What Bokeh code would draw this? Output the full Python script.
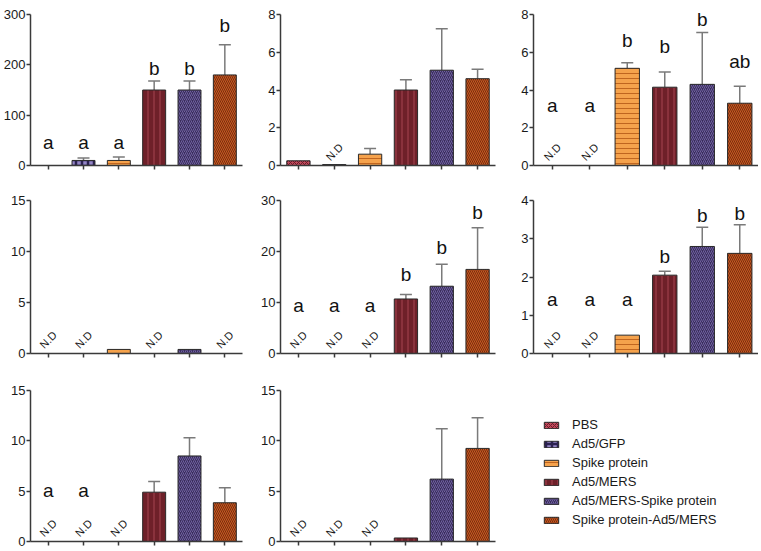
import math
from bokeh.plotting import figure
from bokeh.models import (ColumnDataSource, Whisker, TeeHead, Range1d, FixedTicker,
                          Legend, LegendItem)
from bokeh.layouts import column, row
from bokeh.core.properties import value
from bokeh.embed import file_html
from bokeh.resources import INLINE

# ---------------- data ----------------
GROUPS = ["PBS", "Ad5/GFP", "Spike protein", "Ad5/MERS",
          "Ad5/MERS-Spike protein", "Spike protein-Ad5/MERS"]
NAN = float("nan")

P1_MEAN = [0, 10, 10, 150, 150, 180]
P1_TOP = [NAN, 15, 17, 168, 168, 240]
P1_LETTERS = ["a", "a", "a", "b", "b", "b"]
P1_LETTER_Y = [46, 46, 46, 193, 193, 278]
P1_ND = [False, False, False, False, False, False]
P1_TICKS = [0, 100, 200, 300]

P2_MEAN = [0.25, 0.05, 0.6, 4.0, 5.05, 4.6]
P2_TOP = [NAN, NAN, 0.9, 4.55, 7.25, 5.1]
P2_LETTERS = ["", "", "", "", "", ""]
P2_LETTER_Y = [0, 0, 0, 0, 0, 0]
P2_ND = [False, True, False, False, False, False]
P2_TICKS = [0, 2, 4, 6, 8]

P3_MEAN = [0, 0, 5.15, 4.15, 4.3, 3.3]
P3_TOP = [NAN, NAN, 5.45, 4.95, 7.05, 4.2]
P3_LETTERS = ["a", "a", "b", "b", "b", "ab"]
P3_LETTER_Y = [3.2, 3.2, 6.6, 6.3, 7.75, 5.5]
P3_ND = [True, True, False, False, False, False]
P3_TICKS = [0, 2, 4, 6, 8]

P4_MEAN = [0, 0, 0.4, 0, 0.4, 0]
P4_TOP = [NAN, NAN, NAN, NAN, NAN, NAN]
P4_LETTERS = ["", "", "", "", "", ""]
P4_LETTER_Y = [0, 0, 0, 0, 0, 0]
P4_ND = [True, True, False, True, False, True]
P4_TICKS = [0, 5, 10, 15]

P5_MEAN = [0, 0, 0, 10.7, 13.2, 16.5]
P5_TOP = [NAN, NAN, NAN, 11.6, 17.5, 24.7]
P5_LETTERS = ["a", "a", "a", "b", "b", "b"]
P5_LETTER_Y = [9.4, 9.4, 9.4, 15.5, 20.8, 27.6]
P5_ND = [True, True, True, False, False, False]
P5_TICKS = [0, 10, 20, 30]

P6_MEAN = [0, 0, 0.48, 2.05, 2.8, 2.62]
P6_TOP = [NAN, NAN, NAN, 2.15, 3.3, 3.37]
P6_LETTERS = ["a", "a", "a", "b", "b", "b"]
P6_LETTER_Y = [1.42, 1.42, 1.42, 2.53, 3.6, 3.67]
P6_ND = [True, True, False, False, False, False]
P6_TICKS = [0, 1, 2, 3, 4]

P7_MEAN = [0, 0, 0, 4.9, 8.5, 3.85]
P7_TOP = [NAN, NAN, NAN, 5.95, 10.3, 5.35]
P7_LETTERS = ["a", "a", "", "", "", ""]
P7_LETTER_Y = [5.1, 5.1, 0, 0, 0, 0]
P7_ND = [True, True, True, False, False, False]
P7_TICKS = [0, 5, 10, 15]

P8_MEAN = [0, 0, 0, 0.35, 6.2, 9.25]
P8_TOP = [NAN, NAN, NAN, NAN, 11.2, 12.3]
P8_LETTERS = ["", "", "", "", "", ""]
P8_LETTER_Y = [0, 0, 0, 0, 0, 0]
P8_ND = [True, True, True, False, False, False]
P8_TICKS = [0, 5, 10, 15]

# ---------------- styles ----------------
FILL = ["#c24a5c", "#9384c6", "#f5a24c", "#6e2029", "#3a2d5c", "#c55b22"]
HATCH = ["diagonal_cross", "cross", "horizontal_line", "vertical_line",
         "right_diagonal_line", "left_diagonal_line"]
HATCH_COLOR = ["#6b1c2a", "#2b2150", "#c0651f", "#a5434f", "#6f61a0", "#7a2c0e"]
HATCH_SCALE = [4, 6, 5, 6, 4, 4]
HATCH_WEIGHT = [1, 2.5, 1, 1, 1, 1]
FONT = "Liberation Sans"
AXIS_COLOR = "#3a3a3a"

COL_W = [248, 254, 256]
COL_LEFT = [30, 32, 31]
COL_RIGHT = [6, 7, 0]
ROW_H = [186, 190, 174]
ROW_TOP = [8, 8, 8]
ROW_BOTTOM = [21, 23, 9]
PAD = 1.04


def make_panel(ci, ri, mean, top, letters, letter_y, nd, ticks):
    ymax = ticks[-1]
    p = figure(width=COL_W[ci], height=ROW_H[ri],
               x_range=Range1d(-0.5, 5.5), y_range=Range1d(0, ymax * PAD),
               output_backend="svg", toolbar_location=None,
               min_border_left=COL_LEFT[ci], min_border_right=COL_RIGHT[ci],
               min_border_top=ROW_TOP[ri], min_border_bottom=ROW_BOTTOM[ri])
    p.xgrid.visible = False
    p.ygrid.visible = False
    p.outline_line_color = None
    p.background_fill_color = "white"
    p.border_fill_color = "white"

    ya = p.yaxis[0]
    ya.ticker = FixedTicker(ticks=ticks)
    ya.bounds = (0, ymax)
    ya.axis_line_color = AXIS_COLOR
    ya.axis_line_width = 1.5
    ya.major_tick_line_color = AXIS_COLOR
    ya.major_tick_line_width = 1.5
    ya.major_tick_out = 4
    ya.major_tick_in = 0
    ya.minor_tick_line_color = None
    ya.major_label_standoff = 1
    ya.major_label_text_font = FONT
    ya.major_label_text_font_size = "13px"
    ya.major_label_text_color = "#1a1a1a"

    xa = p.xaxis[0]
    xa.ticker = FixedTicker(ticks=list(range(6)))
    xa.axis_line_color = AXIS_COLOR
    xa.axis_line_width = 1.5
    xa.major_tick_line_color = AXIS_COLOR
    xa.major_tick_line_width = 1.5
    xa.major_tick_out = 4
    xa.major_tick_in = 0
    xa.minor_tick_line_color = None
    xa.major_label_overrides = {i: "" for i in range(6)}
    xa.major_label_text_font_size = "8px"
    xa.major_label_standoff = 0

    idx = [i for i in range(6) if mean[i] > 0]
    bars = ColumnDataSource(dict(
        x=idx, top=[mean[i] for i in idx],
        fill=[FILL[i] for i in idx], hatch=[HATCH[i] for i in idx],
        hcol=[HATCH_COLOR[i] for i in idx], hscale=[HATCH_SCALE[i] for i in idx],
        hweight=[HATCH_WEIGHT[i] for i in idx]))
    p.vbar(x="x", top="top", bottom=0, width=0.65, source=bars,
           fill_color="fill", hatch_pattern="hatch", hatch_color="hcol",
           hatch_scale="hscale", hatch_weight="hweight",
           line_color="#2a2a2a", line_width=1)

    eidx = [i for i in range(6) if not math.isnan(top[i])]
    if eidx:
        esrc = ColumnDataSource(dict(x=eidx, lo=[mean[i] for i in eidx],
                                     hi=[top[i] for i in eidx]))
        w = Whisker(source=esrc, base="x", upper="hi", lower="lo",
                    upper_head=TeeHead(size=12, line_color="#7a7a7a", line_width=1.5),
                    lower_head=None, line_color="#7a7a7a", line_width=1.5)
        p.add_layout(w)

    lidx = [i for i in range(6) if letters[i]]
    if lidx:
        p.text(x=lidx, y=[letter_y[i] for i in lidx], text=[letters[i] for i in lidx],
               text_align="center", text_baseline="middle",
               text_font=value(FONT), text_font_size="19px", text_color="#111111")

    nidx = [i for i in range(6) if nd[i]]
    if nidx:
        nsrc = ColumnDataSource(dict(x=nidx, y=[ymax * 0.09] * len(nidx),
                                     t=["N.D"] * len(nidx)))
        p.text(x="x", y="y", text="t", source=nsrc, angle=45, angle_units="deg",
               text_align="center", text_baseline="middle",
               text_font=value(FONT), text_font_size="11px", text_color="#1a1a1a")
    return p


p1 = make_panel(0, 0, P1_MEAN, P1_TOP, P1_LETTERS, P1_LETTER_Y, P1_ND, P1_TICKS)
p2 = make_panel(1, 0, P2_MEAN, P2_TOP, P2_LETTERS, P2_LETTER_Y, P2_ND, P2_TICKS)
p3 = make_panel(2, 0, P3_MEAN, P3_TOP, P3_LETTERS, P3_LETTER_Y, P3_ND, P3_TICKS)
p4 = make_panel(0, 1, P4_MEAN, P4_TOP, P4_LETTERS, P4_LETTER_Y, P4_ND, P4_TICKS)
p5 = make_panel(1, 1, P5_MEAN, P5_TOP, P5_LETTERS, P5_LETTER_Y, P5_ND, P5_TICKS)
p6 = make_panel(2, 1, P6_MEAN, P6_TOP, P6_LETTERS, P6_LETTER_Y, P6_ND, P6_TICKS)
p7 = make_panel(0, 2, P7_MEAN, P7_TOP, P7_LETTERS, P7_LETTER_Y, P7_ND, P7_TICKS)
p8 = make_panel(1, 2, P8_MEAN, P8_TOP, P8_LETTERS, P8_LETTER_Y, P8_ND, P8_TICKS)

# legend cell
pl = figure(width=COL_W[2], height=ROW_H[2], x_range=Range1d(0, 1), y_range=Range1d(0, 1),
            x_axis_type=None, y_axis_type=None, output_backend="svg",
            toolbar_location=None, min_border=0)
pl.xgrid.visible = False
pl.ygrid.visible = False
pl.outline_line_color = None
items = []
for i, g in enumerate(GROUPS):
    r = pl.vbar(x=[5], top=[1], bottom=0, width=0.1, fill_color=FILL[i],
                hatch_pattern=HATCH[i], hatch_color=HATCH_COLOR[i],
                hatch_scale=HATCH_SCALE[i], hatch_weight=HATCH_WEIGHT[i],
                line_color="#2a2a2a", line_width=1)
    items.append(LegendItem(label=g, renderers=[r]))
leg = Legend(items=items, location=(40, 12), glyph_width=18, glyph_height=8,
             label_height=19, label_standoff=12, spacing=0, padding=0, margin=0,
             border_line_color=None, background_fill_alpha=0,
             label_text_font=FONT, label_text_font_size="13px",
             label_text_color="#1a1a1a")
pl.add_layout(leg)

layout = column(row(p1, p2, p3), row(p4, p5, p6), row(p7, p8, pl))
open("out.html", "w").write(file_html(layout, INLINE))
